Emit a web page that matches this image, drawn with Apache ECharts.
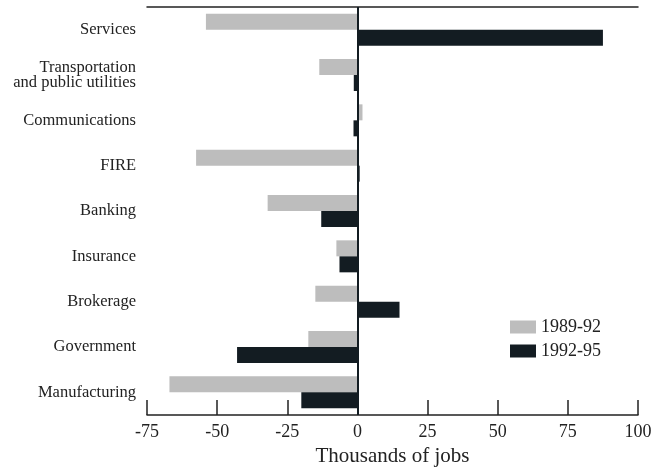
<!DOCTYPE html>
<html><head><meta charset="utf-8">
<script src="https://cdn.jsdelivr.net/npm/echarts@6/dist/echarts.min.js"></script>
<style>html,body{margin:0;padding:0;background:#fff}#c{width:655px;height:470px}</style>
</head><body><div id="c"></div>
<script>
const categories = ['Services','Transportation\nand public utilities','Communications','FIRE','Banking','Insurance','Brokerage','Government','Manufacturing'];
const seriesNames = ['1989-92','1992-95'];
const values8992 = [-54, -13.6, 1.8, -57.5, -32, -7.5, -15, -17.5, -67];
const values9295 = [87.5, -1.3, -1.4, 0.8, -12.9, -6.4, 15, -42.9, -20];
const xTicks = [-75,-50,-25,0,25,50,75,100];

const FONT = '"Liberation Serif", "DejaVu Serif", serif';
const TXT = '#222';
const chart = echarts.init(document.getElementById('c'));
chart.setOption({
  animation:false,
  textStyle:{fontFamily:FONT},
  grid:{left:147,right:17,top:7,bottom:55,containLabel:false,outerBoundsMode:'none'},
  legend:{
    orient:'vertical', left:505, top:313, itemWidth:26, itemHeight:13, itemGap:6,
    icon:'rect', data:seriesNames,
    textStyle:{fontFamily:FONT,fontSize:18,color:TXT}
  },
  xAxis:[{
    type:'value', min:-75, max:100, interval:25, position:'bottom',
    axisLine:{show:true,onZero:false,lineStyle:{color:TXT,width:1.5}},
    axisTick:{show:true,inside:true,length:15,lineStyle:{color:TXT,width:1.5}},
    axisLabel:{fontFamily:FONT,fontSize:18,color:TXT,margin:8,
      formatter:v=>xTicks.includes(v)?String(v):''},
    splitLine:{show:false},
    name:'Thousands of jobs', nameLocation:'middle', nameGap:28,
    nameTextStyle:{fontFamily:FONT,fontSize:21,color:TXT}
  },{
    type:'value', min:-75, max:100, interval:25, position:'top',
    axisLine:{show:true,onZero:false,lineStyle:{color:TXT,width:1.5}},
    axisTick:{show:false}, axisLabel:{show:false}, splitLine:{show:false}
  }],
  yAxis:{
    type:'category', data:categories, inverse:true,
    axisLine:{show:false}, axisTick:{show:false},
    axisLabel:{fontFamily:FONT,fontSize:16.5,color:TXT,margin:11,lineHeight:15,align:'right'}
  },
  series:[{
    name:seriesNames[0], type:'bar', data:values8992, barWidth:16, barGap:'0%',
    itemStyle:{color:'#bdbdbd'}
  },{
    name:seriesNames[1], type:'bar', data:values9295, barWidth:16, barGap:'0%',
    itemStyle:{color:'#131c22'},
    markLine:{silent:true,symbol:'none',label:{show:false},
      lineStyle:{color:'#131c22',width:2,type:'solid'},data:[{xAxis:0}]}
  }]
});
</script></body></html>
